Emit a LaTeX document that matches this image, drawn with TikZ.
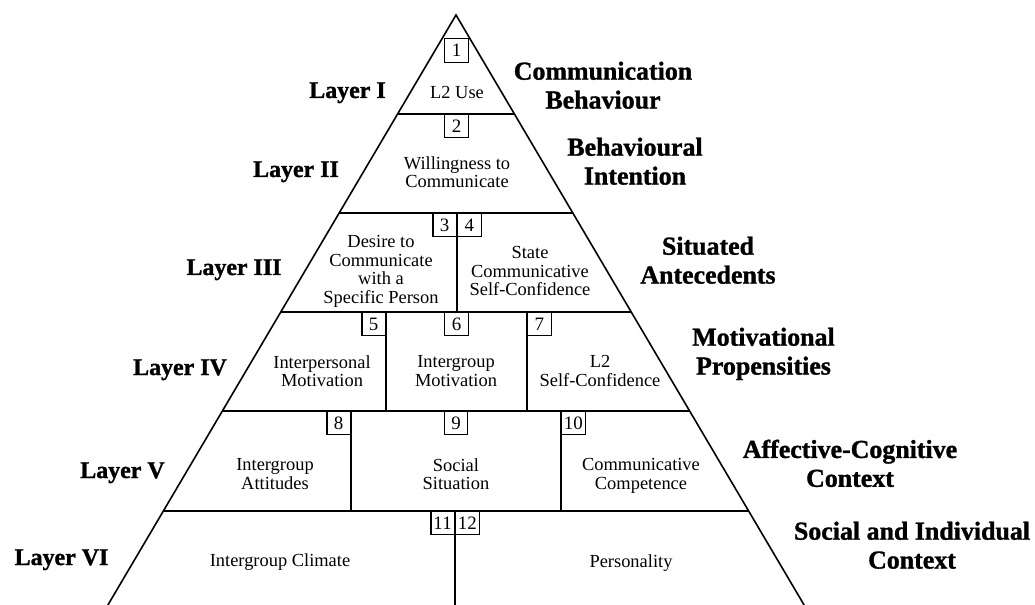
\documentclass[tikz,border=0pt]{standalone}
\usepackage{fontspec}
\setmainfont{Liberation Serif}[BoldFeatures={FakeBold=1.2}]
\begin{document}
\begin{tikzpicture}[x=1bp, y=-1bp,
    edge/.style={line width=1.6bp},
    tier/.style={line width=1.7bp},
    split/.style={line width=1.4bp},
    numbox/.style={draw, line width=1.3bp, minimum width=23.5bp, minimum height=23bp, inner sep=0pt, font=\fontsize{19}{19}\selectfont},
    inner/.style={align=center, anchor=north, inner sep=0pt, font=\fontsize{18.5}{18.5}\selectfont},
    layer/.style={anchor=base, inner sep=0pt, font=\bfseries\fontsize{24}{28}\selectfont},
    context/.style={align=center, anchor=north, inner sep=0pt, font=\bfseries\fontsize{26}{29}\selectfont}]

    \useasboundingbox (0,0) rectangle (1035,605);

    % --- PIRAMIDE ---
    \coordinate (top) at (456,15);
    \draw[edge] (107.9,605) -- (top) -- (804.1,605);

    % Lagen (horizontale lijnen)
    \foreach \y in {114, 213, 312, 411, 511} {
        \draw[tier] ({456-0.59*(\y-15)}, \y) -- ({456+0.59*(\y-15)}, \y);
    }

    % Verticale scheidingen
    \draw[split] (457,213) -- (457,312);
    \foreach \x in {386, 527} {
        \draw[split] (\x,312) -- (\x,411);
    }
    \foreach \x in {351, 561} {
        \draw[split] (\x,411) -- (\x,511);
    }
    \draw[split] (455,511) -- (455,605);

    % --- NUMMERS ---
    \node[numbox, anchor=north, minimum height=24bp] (n1) at (456.5,38) {1};
    \node[numbox, anchor=north] (n2) at (456.5,114) {2};
    \node[numbox, anchor=north east] (n3) at (457,213) {3};
    \node[numbox, anchor=north west] (n4) at (457,213) {4};
    \node[numbox, anchor=north east] (n5) at (386,312) {5};
    \node[numbox, anchor=north] (n6) at (456.5,312) {6};
    \node[numbox, anchor=north west] (n7) at (527,312) {7};
    \node[numbox, anchor=north east] (n8) at (351,411) {8};
    \node[numbox, anchor=north] (n9) at (456,411) {9};
    \node[numbox, anchor=north west] (n10) at (561,411) {10};
    \node[numbox, anchor=north east] (n11) at (455,511) {11};
    \node[numbox, anchor=north west] (n12) at (455,511) {12};

    % --- VAKKEN ---
    \node[inner] (use) at (457,86.5) {L2 Use};
    \node[inner] (wtc) at (457,156.5) {Willingness to\\Communicate};
    \node[inner] (desire) at (381,235.5) {Desire to\\Communicate\\with a\\Specific Person};
    \node[inner] (state) at (530,246.5) {State\\Communicative\\Self-Confidence};
    \node[inner] (interp) at (322,355.5) {Interpersonal\\Motivation};
    \node[inner] (groupmot) at (456,355.5) {Intergroup\\Motivation};
    \node[inner] (selfconf) at (600,355.5) {L2\\Self-Confidence};
    \node[inner] (attit) at (275,458.5) {Intergroup\\Attitudes};
    \node[inner] (situ) at (456,458.5) {Social\\Situation};
    \node[inner] (compet) at (641,458.5) {Communicative\\Competence};
    \node[inner] (climate) at (280,553.5) {Intergroup Climate};
    \node[inner] (person) at (631,554.5) {Personality};

    % --- LAGEN (Links) ---
    \node[layer] (l1) at (347.5,98) {Layer I};
    \node[layer] (l2) at (296,177) {Layer II};
    \node[layer] (l3) at (234,275) {Layer III};
    \node[layer] (l4) at (180,375) {Layer IV};
    \node[layer] (l5) at (122.5,478) {Layer V};
    \node[layer] (l6) at (61.5,565) {Layer VI};

    % --- CONTEXT (Rechts) ---
    \node[context] (c1) at (603,61.5) {Communication\\Behaviour};
    \node[context] (c2) at (635,137.5) {Behavioural\\Intention};
    \node[context] (c3) at (708,236.5) {Situated\\Antecedents};
    \node[context] (c4) at (763.5,327.5) {Motivational\\Propensities};
    \node[context] (c5) at (850,439.5) {Affective-Cognitive\\Context};
    \node[context] (c6) at (912,521.5) {Social and Individual\\Context};
\end{tikzpicture}
\end{document}
